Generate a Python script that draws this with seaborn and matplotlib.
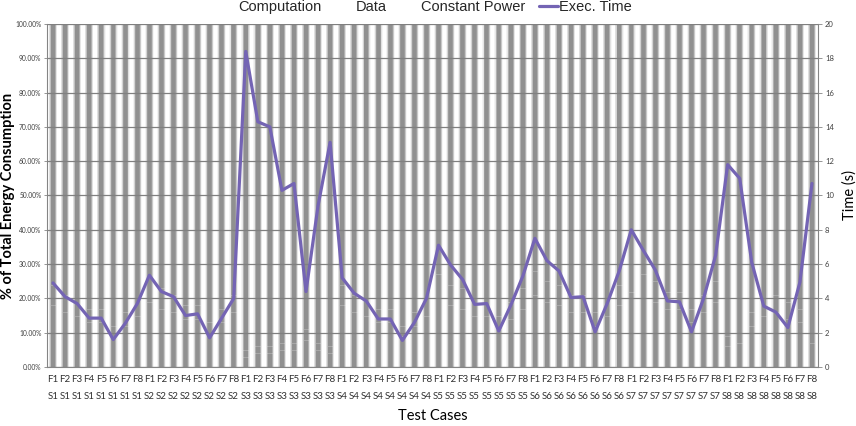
import numpy as np
import pandas as pd
import matplotlib
matplotlib.use("Agg")
import matplotlib.pyplot as plt
from matplotlib.ticker import PercentFormatter, FixedLocator
from matplotlib.patches import Patch
from matplotlib.lines import Line2D
import seaborn as sns

# ---------------- data ----------------
scenarios = ["S1", "S2", "S3", "S4", "S5", "S6", "S7", "S8"]
functions = ["F1", "F2", "F3", "F4", "F5", "F6", "F7", "F8"]
case_labels = [f"{f}\n{s}" for s in scenarios for f in functions]

# share of energy (%) per test case, read approximately from the faint segment edges
computation = [18, 16, 15, 13, 13, 9, 12, 15,
               19, 17, 16, 14, 14, 10, 13, 16,
               3, 4, 4, 5, 5, 8, 5, 4,
               18, 16, 15, 13, 13, 9, 12, 15,
               20, 18, 17, 15, 15, 11, 14, 17,
               21, 19, 18, 16, 16, 12, 15, 18,
               22, 20, 19, 17, 17, 13, 16, 19,
               6, 7, 12, 15, 16, 14, 13, 7]
data_share = [6, 5, 5, 4, 4, 3, 4, 5,
              7, 6, 5, 4, 4, 3, 4, 5,
              2, 2, 2, 2, 2, 3, 2, 2,
              6, 5, 5, 4, 4, 3, 4, 5,
              7, 6, 6, 5, 5, 4, 5, 6,
              7, 6, 6, 5, 5, 4, 5, 6,
              8, 7, 6, 5, 5, 4, 5, 6,
              3, 3, 4, 5, 5, 5, 4, 3]
constant_power = [100 - c - d for c, d in zip(computation, data_share)]

exec_time = [4.9, 4.1, 3.7, 2.85, 2.85, 1.6, 2.55, 3.7,
             5.35, 4.4, 4.1, 3.0, 3.1, 1.7, 2.85, 4.0,
             18.4, 14.3, 14.0, 10.3, 10.7, 4.4, 9.4, 13.1,
             5.2, 4.3, 3.85, 2.8, 2.8, 1.55, 2.6, 4.0,
             7.1, 5.95, 5.1, 3.65, 3.7, 2.1, 3.6, 5.3,
             7.5, 6.2, 5.6, 4.05, 4.1, 2.05, 3.7, 5.6,
             8.0, 6.8, 5.65, 3.85, 3.8, 2.05, 4.0, 6.5,
             11.8, 11.0, 6.1, 3.55, 3.2, 2.3, 4.95, 10.7]

df = pd.DataFrame({"case": case_labels,
                   "Computation": computation,
                   "Data": data_share,
                   "Constant Power": constant_power})

# ---------------- style ----------------
sns.set_theme(style="white")
plt.rcParams["font.family"] = ["Lato", "DejaVu Sans"]

fig = plt.figure(figsize=(8.56, 4.26), dpi=100)
ax = fig.add_axes([0.0549, 0.1385, 0.9007, 0.8052])

# gradient layers (outer light -> inner dark)
layers = [(0.72, "#f3f3f3"), (0.62, "#e0e0e0"), (0.53, "#c8c8c8"),
          (0.45, "#b0b0b0"), (0.37, "#9c9c9c"), (0.29, "#909090")]

cum_total = (df["Computation"] + df["Data"] + df["Constant Power"]) / 100
cum_cd = (df["Computation"] + df["Data"]) / 100
cum_c = df["Computation"] / 100

for level in [cum_total, cum_cd, cum_c]:
    for w, col in layers:
        sns.barplot(x=df["case"], y=level, order=case_labels, width=w,
                    color=col, saturation=1, errorbar=None, ax=ax,
                    linewidth=0)
    sns.barplot(x=df["case"], y=level, order=case_labels, width=0.56,
                fill=False, edgecolor=(1, 1, 1, 0.25), linewidth=0.6,
                errorbar=None, ax=ax)

ax.set_xlim(-0.5, len(case_labels) - 0.5)
ax.set_ylim(0, 1)
ax.yaxis.set_major_locator(FixedLocator(np.arange(0, 1.01, 0.1)))
ax.yaxis.set_major_formatter(PercentFormatter(1, decimals=2))
ax.yaxis.grid(True, color="#808080", linewidth=0.9)
ax.xaxis.grid(False)
ax.set_axisbelow(False)

ax.set_xticks(range(len(case_labels)))
ax.set_xticklabels(case_labels, fontsize=7, linespacing=2.1, color="#303030")
ax.set_xticks(np.arange(-0.5, len(case_labels), 1), minor=True)
ax.tick_params(axis="x", which="major", length=0, pad=6)
ax.tick_params(axis="x", which="minor", length=25, width=0.8, color="#a8a8a8")
ax.tick_params(axis="y", which="major", length=2.5, width=0.6, color="#858585",
               labelsize=4.8, labelcolor="#404040", pad=1.5, left=True)

for s in ["top", "right"]:
    ax.spines[s].set_visible(False)
for s in ["left", "bottom"]:
    ax.spines[s].set_color("#858585")
    ax.spines[s].set_linewidth(0.8)

ax.set_xlabel("Test Cases", fontsize=10.5, color="#000000", labelpad=2)
ax.set_ylabel("% of Total Energy Consumption", fontsize=10.5,
              fontweight="bold", color="#000000")
ax.yaxis.set_label_coords(-0.041, 0.5)

# ---------------- secondary axis: exec time ----------------
ax2 = ax.twinx()
line_color = "#7464b4"
sns.lineplot(x=np.arange(len(exec_time)), y=exec_time, ax=ax2,
             color=line_color, linewidth=2.3, legend=False)
ax2.set_xlim(-0.5, len(case_labels) - 0.5)
ax2.set_ylim(0, 20)
ax2.set_yticks(np.arange(0, 21, 2))
ax2.tick_params(axis="y", length=3, width=0.6, color="#858585",
                labelsize=5.5, labelcolor="#404040", pad=2, right=True)
for s in ["top", "left", "bottom"]:
    ax2.spines[s].set_visible(False)
ax2.spines["right"].set_color("#858585")
ax2.spines["right"].set_linewidth(0.8)
ax2.set_ylabel("Time (s)", fontsize=10.5, color="#000000")
ax2.yaxis.set_label_coords(1.031, 0.5)

# ---------------- legend ----------------
W, H = 856, 426
patch_items = [("Computation", 205), ("Data", 322), ("Constant Power", 387)]
for label, xpx in patch_items:
    fig.legend(handles=[Patch(facecolor="white", edgecolor="none")],
               labels=[label], loc="center left",
               bbox_to_anchor=(xpx / W, 1 - 7 / H), frameon=False,
               handlelength=2.0, handletextpad=0.3, borderpad=0,
               borderaxespad=0,
               prop={"family": ["Liberation Sans", "DejaVu Sans"], "size": 10.5})
fig.legend(handles=[Line2D([0], [0], color=line_color, linewidth=2.3)],
           labels=["Exec. Time"], loc="center left",
           bbox_to_anchor=(539 / W, 1 - 7 / H), frameon=False,
           handlelength=1.3, handletextpad=0.1, borderpad=0, borderaxespad=0,
           prop={"family": ["Liberation Sans", "DejaVu Sans"], "size": 10.5})

fig.savefig("out.png", dpi=100)
